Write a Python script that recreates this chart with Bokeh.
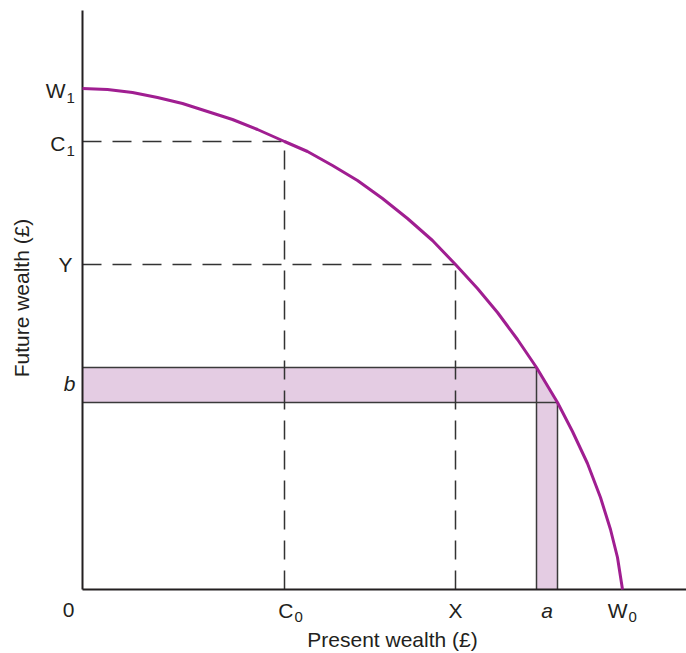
from bokeh.plotting import figure
from bokeh.models import Range1d
from bokeh.core.properties import value
from bokeh.embed import file_html
from bokeh.resources import INLINE

# ---- data (units: arbitrary wealth units) ----
# intertemporal opportunity frontier (present wealth, future wealth)
present = [0, 25, 50, 75, 100, 125, 150, 175, 202, 225, 250, 275, 300, 325, 350,
           373, 395, 415, 435, 454, 475, 490, 505, 518, 528, 535, 540]
future = [501, 500, 497, 492, 486, 478, 470, 460, 448, 438, 424, 409, 391, 371, 349,
          325, 301, 277, 250, 222, 187, 158, 126, 92, 60, 32, 0]

# marked points on the axes
W1, C1, Yv = 501, 448, 325          # future wealth marks
W0, C0, Xv = 540, 202, 373          # present wealth marks
a_lo, a_hi = 454, 475               # small band on present axis
b_lo, b_hi = 187, 222               # small band on future axis
x_axis_end, y_axis_end = 604, 579   # axis extents

y_tick_main = ["W", "C", "Y", "b"]
y_tick_sub = ["1", "1", "", ""]
y_tick_val = [W1, C1, Yv, (b_lo + b_hi) / 2]

x_tick_main = ["0", "C", "X", "a", "W"]
x_tick_sub = ["", "0", "", "", "0"]
x_tick_val = [0, C0, Xv, (a_lo + a_hi) / 2, W0]

x_title = "Present wealth (£)"
y_title = "Future wealth (£)"

# ---- styling ----
PURPLE = "#a01e91"
PINK = "#e4cce3"
INK = "#231f20"
FONT = value("Liberation Sans")
MAIN_SIZE = "21px"
SUB_SIZE = "15px"

p = figure(width=686, height=653, x_range=Range1d(-82, 604), y_range=Range1d(-64, 589),
           output_backend="svg", toolbar_location=None, min_border=0,
           x_axis_location=None, y_axis_location=None)
p.grid.visible = False
p.outline_line_color = None
p.background_fill_color = "white"
p.border_fill_color = "white"

# shaded bands
p.quad(left=[0], right=[a_lo], bottom=[b_lo], top=[b_hi], fill_color=PINK, line_color=None)
p.quad(left=[a_lo], right=[a_hi], bottom=[0], top=[b_lo], fill_color=PINK, line_color=None)
p.patch([a_lo, a_hi, a_lo], [b_hi, b_lo, b_lo], fill_color=PINK, line_color=None)

# band outlines
p.segment(x0=[0, 0, a_lo, a_hi], y0=[b_hi, b_lo, 0, 0],
          x1=[a_lo, a_hi, a_lo, a_hi], y1=[b_hi, b_lo, b_hi, b_lo],
          line_color="#3a3a3a", line_width=1.5)

# dashed guide lines
p.segment(x0=[0, C0, 0, Xv], y0=[C1, 0, Yv, 0],
          x1=[C0, C0, Xv, Xv], y1=[C1, C1, Yv, Yv],
          line_color="#333333", line_width=1.5, line_dash="19 11")

# axes
p.segment(x0=[0, 0], y0=[0, 0], x1=[x_axis_end, 0], y1=[0, y_axis_end],
          line_color=INK, line_width=2)

# frontier
p.line(present, future, line_color=PURPLE, line_width=3)


def label(x, y, txt, size, dx=0, dy=0, align="center", italic=False, angle=0.0):
    p.text(x=[x], y=[y], text=[txt], text_align=align, text_baseline="middle",
           x_offset=dx, y_offset=dy, angle=angle,
           text_font=FONT, text_font_size=size, text_color=INK,
           text_font_style="italic" if italic else "normal")


# y tick labels
for main, sub, v in zip(y_tick_main, y_tick_sub, y_tick_val):
    if sub:
        label(0, v, main, MAIN_SIZE, dx=-17, dy=1.5, align="right")
        label(0, v, sub, SUB_SIZE, dx=-16, dy=9, align="left")
    elif main == "b":
        label(0, v, main, MAIN_SIZE, dx=-7, dy=-2, align="right", italic=True)
    else:
        label(0, v, main, MAIN_SIZE, dx=-10, dy=0, align="right")

# x tick labels
for main, sub, v in zip(x_tick_main, x_tick_sub, x_tick_val):
    if sub:
        right = 9 if main == "C" else 5
        label(v, 0, main, MAIN_SIZE, dx=right, dy=20.5, align="right")
        label(v, 0, sub, SUB_SIZE, dx=right + 1, dy=27, align="left")
    elif main == "0":
        label(v, 0, main, MAIN_SIZE, dx=-14, dy=20.5)
    else:
        label(v, 0, main, MAIN_SIZE, dy=20.5, italic=(main == "a"))

# axis titles
label(x_axis_end / 2 + 8, 0, x_title, "21px", dy=50)
label(0, y_axis_end / 2 + 2, y_title, "21px", dx=-61, angle=1.5708)

open("out.html", "w").write(file_html(p, INLINE))
